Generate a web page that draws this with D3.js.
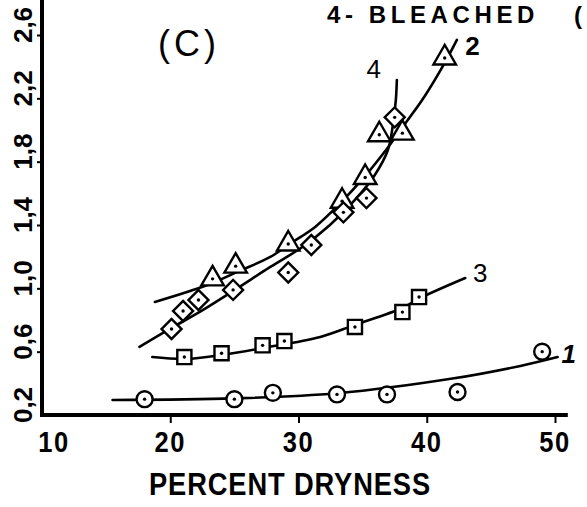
<!DOCTYPE html>
<html>
<head>
<meta charset="utf-8">
<script src="https://cdn.jsdelivr.net/npm/d3@7"></script>
<style>
  html, body { margin: 0; padding: 0; background: #fff; }
  svg { display: block; }
  text { font-family: "Liberation Sans", Arial, sans-serif; fill: #000; }
</style>
</head>
<body>
<svg id="chart" width="587" height="507"></svg>
<script>
// tick values
const xTicks = [20, 30, 40, 50];
const xTickLabels = ["10", "20", "30", "40", "50"];
const yTicks = [0.2, 0.6, 1.0, 1.4, 1.8, 2.2, 2.6];
const yTickLabels = ["0,2", "0,6", "1,0", "1,4", "1,8", "2,2", "2,6"];

// measured points (percent dryness, y)
const circles1 = [[18.0, 0.30], [25.0, 0.30], [28.0, 0.34], [33.0, 0.33], [36.9, 0.33], [42.4, 0.345], [49.0, 0.60]];
const squares3 = [[21.1, 0.566], [24.0, 0.59], [27.2, 0.64], [28.9, 0.667], [34.4, 0.756], [38.1, 0.85], [39.4, 0.945]];
const triangles2 = [[23.3, 1.06], [25.1, 1.14], [29.2, 1.28], [33.4, 1.55], [35.2, 1.70], [36.3, 1.97], [38.1, 1.98], [41.4, 2.455]];
const diamonds4 = [[20.1, 0.743], [21.0, 0.857], [22.2, 0.926], [24.9, 0.99], [29.2, 1.10], [31.0, 1.274], [33.5, 1.48], [35.3, 1.57], [37.5, 2.08]];

// hand-drawn fitted curves
const curve1 = [[15.5, 0.295], [25.0, 0.305], [33.0, 0.337], [42.0, 0.43], [47.3, 0.51], [50.2, 0.566]];
const curve3 = [[18.6, 0.566], [21.2, 0.554], [24.0, 0.579], [27.2, 0.623], [31.7, 0.693], [34.4, 0.769], [38.1, 0.876], [39.5, 0.939], [43.0, 1.065]];
const curve2 = [[18.8, 0.914], [22.9, 1.021], [25.4, 1.11], [27.8, 1.198], [29.3, 1.28], [31.3, 1.388], [33.2, 1.533], [35.2, 1.71], [37.0, 1.893], [38.3, 2.038], [39.85, 2.215], [41.4, 2.424], [42.35, 2.569]];
const curve4 = [[17.6, 0.63], [20.1, 0.75], [22.3, 0.851], [24.9, 0.983], [27.8, 1.135], [30.3, 1.261], [32.45, 1.40], [34.4, 1.558], [35.95, 1.716], [36.97, 1.874], [37.36, 2.032], [37.59, 2.19], [37.67, 2.316]];

const svg = d3.select("#chart");
const x = d3.scaleLinear().domain([10, 50]).range([42, 555]);
const y = d3.scaleLinear().domain([0.2, 2.6]).range([415, 35]);

// axes lines (thick, like the ink drawing)
svg.append("line").attr("x1", x(10)).attr("x2", x(51)).attr("y1", y(0.2)).attr("y2", y(0.2))
  .attr("stroke", "#000").attr("stroke-width", 4);
svg.append("line").attr("x1", x(10)).attr("x2", x(10)).attr("y1", y(0.2) + 2).attr("y2", 0)
  .attr("stroke", "#000").attr("stroke-width", 4);

const xAxis = svg.append("g").attr("transform", `translate(0,${y(0.2)})`)
  .call(d3.axisBottom(x).tickValues(xTicks).tickSize(8).tickSizeOuter(0).tickFormat(""));
const yAxis = svg.append("g").attr("transform", `translate(${x(10)},0)`)
  .call(d3.axisLeft(y).tickValues(yTicks.slice(1)).tickSize(5).tickSizeOuter(0).tickFormat(""));
[xAxis, yAxis].forEach((g) => {
  g.select(".domain").remove();
  g.selectAll(".tick line").attr("stroke", "#000").attr("stroke-width", 2);
});

// tick labels (narrow, tall lettering)
svg.append("g").selectAll("text").data(xTickLabels).join("text")
  .attr("transform", (d, i) => `translate(${x(+d) + (i === 0 ? 12 : 0)},452) scale(0.85,1)`)
  .attr("text-anchor", "middle").attr("font-size", 30).attr("font-weight", "bold")
  .attr("letter-spacing", 2)
  .text((d) => d);
svg.append("g").selectAll("text").data(yTicks).join("text")
  .attr("transform", (d) => `translate(32,${y(d) - 10}) rotate(-90)`)
  .attr("text-anchor", "middle").attr("font-size", 26).attr("font-weight", "bold")
  .text((d, i) => yTickLabels[i]);

svg.append("text").attr("transform", "translate(290,495) scale(0.88,1)").attr("text-anchor", "middle")
  .attr("font-size", 31).attr("font-weight", "bold").attr("letter-spacing", 1)
  .text("PERCENT DRYNESS");
svg.append("text").attr("x", 158).attr("y", 56).attr("font-size", 36).attr("letter-spacing", 4)
  .text("(C)");
svg.append("text").attr("x", 327).attr("y", 23).attr("font-size", 24).attr("font-weight", "bold")
  .attr("letter-spacing", 4.6).text("4- BLEACHED");
svg.append("text").attr("x", 574).attr("y", 24).attr("font-size", 24).attr("font-weight", "bold")
  .text("(");

// curves
const line = d3.line().x((d) => x(d[0])).y((d) => y(d[1])).curve(d3.curveCatmullRom);
[curve1, curve2, curve3, curve4].forEach((c) => {
  svg.append("path").attr("d", line(c)).attr("fill", "none")
    .attr("stroke", "#000").attr("stroke-width", 2.6).attr("stroke-linecap", "round");
});

// markers
const mk = svg.append("g").attr("fill", "#fff").attr("stroke", "#000").attr("stroke-width", 2.4);
const sym = (type, size) => d3.symbol().type(type).size(size);
mk.selectAll(".c1").data(circles1).join("path").attr("class", "c1")
  .attr("transform", (d) => `translate(${x(d[0])},${y(d[1])})`).attr("d", sym(d3.symbolCircle, 200));
mk.selectAll(".s3").data(squares3).join("path").attr("class", "s3")
  .attr("transform", (d) => `translate(${x(d[0])},${y(d[1])})`).attr("d", sym(d3.symbolSquare, 200));
mk.selectAll(".t2").data(triangles2).join("path").attr("class", "t2")
  .attr("transform", (d) => `translate(${x(d[0])},${y(d[1])})`).attr("d", sym(d3.symbolTriangle, 220));
mk.selectAll(".d4").data(diamonds4).join("path").attr("class", "d4")
  .attr("transform", (d) => `translate(${x(d[0])},${y(d[1])}) rotate(45)`).attr("d", sym(d3.symbolSquare, 200));
const dots = [].concat(circles1, squares3, triangles2, diamonds4);
svg.append("g").selectAll("circle").data(dots).join("circle")
  .attr("cx", (d) => x(d[0])).attr("cy", (d) => y(d[1])).attr("r", 1.7).attr("fill", "#000");

// curve numbers
const curveLabels = [
  { t: "1", at: [50.5, 0.585], style: "italic", w: "bold" },
  { t: "3", at: [43.6, 1.10], style: "normal", w: "normal" },
  { t: "2", at: [43.0, 2.53], style: "normal", w: "bold" },
  { t: "4", at: [35.3, 2.386], style: "normal", w: "normal" },
];
svg.append("g").selectAll("text").data(curveLabels).join("text")
  .attr("x", (d) => x(d.at[0])).attr("y", (d) => y(d.at[1]) + 9)
  .attr("font-size", 26).attr("font-style", (d) => d.style).attr("font-weight", (d) => d.w)
  .text((d) => d.t);
</script>
</body>
</html>
